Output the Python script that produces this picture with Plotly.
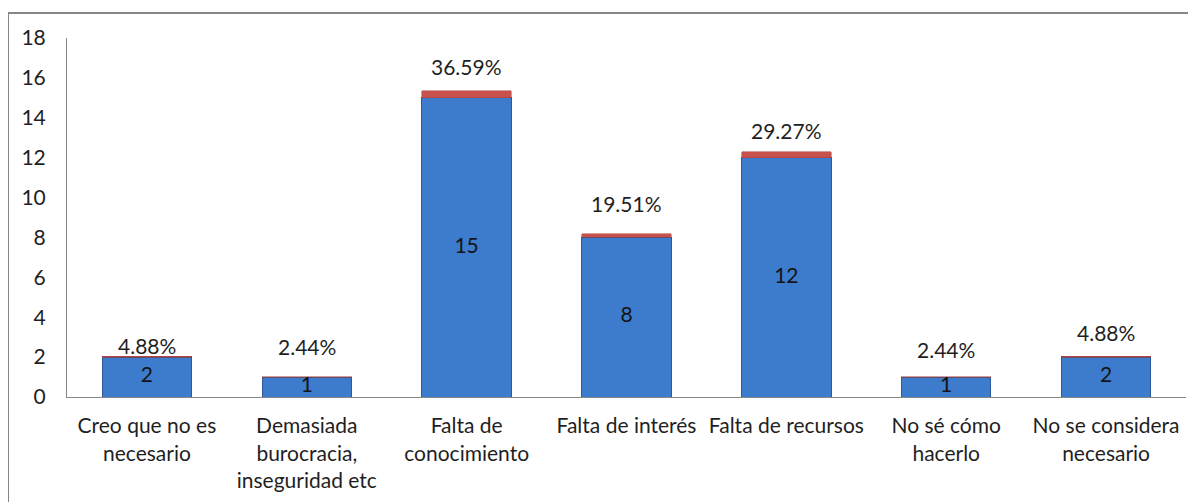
import plotly.graph_objects as go

categories = ["Creo que no es<br>necesario", "Demasiada<br>burocracia,<br>inseguridad etc",
              "Falta de<br>conocimiento", "Falta de interés", "Falta de recursos",
              "No sé cómo<br>hacerlo", "No se considera<br>necesario"]
counts = [2, 1, 15, 8, 12, 1, 2]
shares = [0.0488, 0.0244, 0.3659, 0.1951, 0.2927, 0.0244, 0.0488]
share_labels = ["4.88%", "2.44%", "36.59%", "19.51%", "29.27%", "2.44%", "4.88%"]
label_gap_px = [11, 30, 24, 30, 21, 27, 24]
y_ticks = [0, 2, 4, 6, 8, 10, 12, 14, 16, 18]

FONT = "Lato"
FS = 21
TXT = "#1f1f1f"

fig = go.Figure()
fig.add_trace(go.Bar(
    x=categories, y=counts, marker=dict(color="#3D7BCD", line=dict(color="#2C5A98", width=1)),
    width=0.56, hoverinfo="skip", showlegend=False))
fig.add_trace(go.Bar(
    x=categories, y=shares, marker=dict(color="#C8504D", line=dict(color="#A03C3A", width=0.5)),
    width=0.56, hoverinfo="skip", showlegend=False))
fig.add_trace(go.Scatter(
    x=categories, y=[c / 2 for c in counts], mode="text",
    text=[str(c) for c in counts], textfont=dict(family=FONT, size=FS, color="#141414"),
    hoverinfo="skip", showlegend=False, cliponaxis=False))

for cat, c, s, lab, gap in zip(categories, counts, shares, share_labels, label_gap_px):
    fig.add_annotation(x=cat, y=c + s, text=lab, showarrow=False, yanchor="middle",
                       yshift=gap, font=dict(family=FONT, size=FS, color=TXT))

# outer chart frame (top and left edges)
fig.add_shape(type="line", xref="paper", yref="paper", x0=-0.0527, x1=1.2, y0=1.0696, y1=1.0696,
              line=dict(color="#868686", width=2))
fig.add_shape(type="line", xref="paper", yref="paper", x0=-0.0527, x1=-0.0527, y0=1.0696, y1=-0.5,
              line=dict(color="#868686", width=2))

fig.update_layout(
    barmode="stack", bargap=0.44,
    width=1188, height=494,
    margin=dict(l=59, r=10, t=30, b=105),
    paper_bgcolor="white", plot_bgcolor="white",
    font=dict(family=FONT, size=FS, color=TXT),
)
fig.update_xaxes(showline=True, linecolor="#868686", linewidth=1, showgrid=False, automargin=False,
                 ticks="", tickfont=dict(family=FONT, size=FS, color=TXT), ticklabelstandoff=10)
fig.update_yaxes(range=[0, 18], tickvals=y_ticks, showline=True, linecolor="#868686", linewidth=1,
                 showgrid=False, zeroline=False, ticks="outside", ticklen=0, ticklabelstandoff=16,
                 automargin=False, tickfont=dict(family=FONT, size=FS, color=TXT))

fig.write_html("out.html")
